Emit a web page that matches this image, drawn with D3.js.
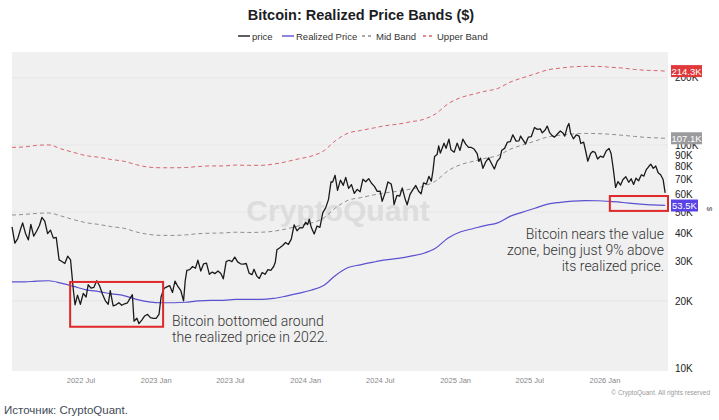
<!DOCTYPE html>
<html lang="en">
<head>
<meta charset="UTF-8">
<title>Bitcoin: Realized Price Bands</title>
<script src="https://d3js.org/d3.v7.min.js"></script>
<style>
    body { margin: 0; background: #fff; }
    svg { display: block; font-family: "Liberation Sans", Arial, sans-serif; }
</style>
</head>
<body>
<svg width="719" height="420"></svg>
<script>
// price in K$, weekly (plus a few spike days)
const price = [
    ["2022-01-15",42.9],["2022-01-22",36.3],["2022-01-29",38.0],["2022-02-05",42.0],["2022-02-10",44.7],
    ["2022-02-17",40.1],["2022-02-24",37.5],["2022-03-02",44.0],["2022-03-09",39.0],["2022-03-16",41.0],
    ["2022-03-23",43.5],["2022-03-29",47.3],["2022-04-05",45.5],["2022-04-12",40.0],["2022-04-19",41.5],
    ["2022-04-26",38.2],["2022-05-03",38.5],["2022-05-10",30.5],["2022-05-17",30.0],["2022-05-24",29.4],
    ["2022-05-31",31.7],["2022-06-07",30.5],["2022-06-14",22.2],["2022-06-18",19.2],["2022-06-24",21.2],
    ["2022-07-01",19.3],["2022-07-08",21.6],["2022-07-15",20.8],["2022-07-20",23.6],["2022-07-27",22.8],
    ["2022-08-03",23.0],["2022-08-10",24.6],["2022-08-17",23.3],["2022-08-24",21.4],["2022-08-31",20.0],
    ["2022-09-07",19.3],["2022-09-12",22.2],["2022-09-19",19.0],["2022-09-26",19.2],["2022-10-03",19.6],
    ["2022-10-10",19.1],["2022-10-17",19.4],["2022-10-24",19.6],["2022-10-31",20.6],["2022-11-05",21.3],
    ["2022-11-09",16.2],["2022-11-16",16.7],["2022-11-21",15.8],["2022-11-28",16.4],["2022-12-05",17.1],
    ["2022-12-12",17.4],["2022-12-19",16.8],["2022-12-26",16.7],["2023-01-02",16.7],["2023-01-09",17.4],
    ["2023-01-14",20.8],["2023-01-21",22.7],["2023-01-28",23.1],["2023-02-04",23.4],["2023-02-11",21.8],
    ["2023-02-17",24.5],["2023-02-24",23.2],["2023-03-03",22.3],["2023-03-10",20.0],["2023-03-14",24.6],
    ["2023-03-18",27.4],["2023-03-25",27.6],["2023-04-01",28.5],["2023-04-08",28.0],["2023-04-14",30.4],
    ["2023-04-21",27.2],["2023-04-28",29.3],["2023-05-05",29.5],["2023-05-12",26.3],["2023-05-19",26.9],
    ["2023-05-26",26.5],["2023-06-02",27.2],["2023-06-09",26.5],["2023-06-15",25.1],["2023-06-22",30.0],
    ["2023-06-29",30.4],["2023-07-06",30.0],["2023-07-13",31.4],["2023-07-20",29.9],["2023-07-27",29.3],
    ["2023-08-03",29.2],["2023-08-10",29.4],["2023-08-17",26.6],["2023-08-24",26.2],["2023-08-29",27.7],
    ["2023-09-05",25.8],["2023-09-11",25.2],["2023-09-18",26.8],["2023-09-25",26.3],["2023-10-02",27.6],
    ["2023-10-09",27.4],["2023-10-16",28.5],["2023-10-20",29.8],["2023-10-24",33.9],["2023-10-31",34.6],
    ["2023-11-07",35.4],["2023-11-14",36.5],["2023-11-21",35.8],["2023-11-28",37.8],["2023-12-05",43.8],
    ["2023-12-12",41.2],["2023-12-19",42.6],["2023-12-26",42.5],["2024-01-02",45.0],["2024-01-07",43.9],
    ["2024-01-11",46.5],["2024-01-16",42.6],["2024-01-23",39.9],["2024-01-30",43.3],["2024-02-06",42.7],
    ["2024-02-13",49.7],["2024-02-20",52.2],["2024-02-27",57.0],["2024-03-04",68.3],["2024-03-08",68.2],
    ["2024-03-14",73.1],["2024-03-20",62.5],["2024-03-27",69.5],["2024-04-03",65.9],["2024-04-09",71.5],
    ["2024-04-16",63.8],["2024-04-23",66.4],["2024-04-30",60.6],["2024-05-07",63.2],["2024-05-14",61.6],
    ["2024-05-21",70.2],["2024-05-28",68.4],["2024-06-04",70.6],["2024-06-11",67.3],["2024-06-18",65.2],
    ["2024-06-25",61.9],["2024-07-02",62.1],["2024-07-07",55.9],["2024-07-14",60.8],["2024-07-21",68.2],
    ["2024-07-29",66.8],["2024-08-02",61.5],["2024-08-05",54.0],["2024-08-12",59.4],["2024-08-19",59.0],
    ["2024-08-25",64.2],["2024-09-01",57.3],["2024-09-06",53.9],["2024-09-13",60.0],["2024-09-20",63.0],
    ["2024-09-27",65.8],["2024-10-04",62.0],["2024-10-10",60.3],["2024-10-16",67.6],["2024-10-23",66.7],
    ["2024-10-29",72.3],["2024-11-04",68.8],["2024-11-08",76.5],["2024-11-12",88.7],["2024-11-18",90.5],
    ["2024-11-22",98.9],["2024-11-26",91.9],["2024-12-01",97.2],["2024-12-05",101.8],["2024-12-10",96.6],
    ["2024-12-17",106.1],["2024-12-22",95.1],["2024-12-30",92.8],["2025-01-06",101.9],["2025-01-13",94.5],
    ["2025-01-20",106.1],["2025-01-27",100.8],["2025-02-03",97.5],["2025-02-10",97.4],["2025-02-17",95.6],
    ["2025-02-24",91.5],["2025-02-28",84.4],["2025-03-04",87.2],["2025-03-10",78.6],["2025-03-17",84.0],
    ["2025-03-24",87.5],["2025-03-31",82.5],["2025-04-07",78.0],["2025-04-14",84.5],["2025-04-21",87.5],
    ["2025-04-25",94.7],["2025-05-02",96.5],["2025-05-09",103.0],["2025-05-16",103.5],["2025-05-22",111.0],
    ["2025-05-30",104.0],["2025-06-06",104.3],["2025-06-10",109.6],["2025-06-17",104.5],["2025-06-22",101.0],
    ["2025-06-29",108.4],["2025-07-06",108.9],["2025-07-14",119.8],["2025-07-21",117.4],["2025-07-28",118.0],
    ["2025-08-02",113.2],["2025-08-09",116.6],["2025-08-14",121.5],["2025-08-20",113.5],["2025-08-26",110.1],
    ["2025-09-01",108.4],["2025-09-08",112.0],["2025-09-15",115.4],["2025-09-22",112.7],["2025-09-26",109.6],
    ["2025-10-02",120.5],["2025-10-06",124.8],["2025-10-10",113.2],["2025-10-17",106.5],["2025-10-24",111.0],
    ["2025-10-31",109.5],["2025-11-04",101.5],["2025-11-11",103.0],["2025-11-17",92.0],["2025-11-21",84.5],
    ["2025-11-28",91.5],["2025-12-03",93.5],["2025-12-09",92.6],["2025-12-15",86.5],["2025-12-22",89.0],
    ["2025-12-29",88.0],["2026-01-05",94.0],["2026-01-12",96.5],["2026-01-17",91.5],["2026-01-22",79.0],
    ["2026-01-28",64.5],["2026-02-03",68.5],["2026-02-09",66.0],["2026-02-15",70.0],["2026-02-22",72.0],
    ["2026-03-01",68.0],["2026-03-07",70.5],["2026-03-13",66.5],["2026-03-19",71.0],["2026-03-25",69.0],
    ["2026-04-01",73.5],["2026-04-07",72.5],["2026-04-13",77.5],["2026-04-19",80.0],["2026-04-24",82.0],
    ["2026-04-30",78.5],["2026-05-06",80.5],["2026-05-12",75.0],["2026-05-18",73.5],["2026-05-24",70.0],
    ["2026-05-29",61.0]
];

// monthly band series, K$
const bandDates = ["2022-01-15","2022-02-15","2022-03-15","2022-04-15","2022-05-15","2022-06-15","2022-07-15",
    "2022-08-15","2022-09-15","2022-10-15","2022-11-15","2022-12-15","2023-01-15","2023-02-15","2023-03-15",
    "2023-04-15","2023-05-15","2023-06-15","2023-07-15","2023-08-15","2023-09-15","2023-10-15","2023-11-15",
    "2023-12-15","2024-01-15","2024-02-15","2024-03-15","2024-04-15","2024-05-15","2024-06-15","2024-07-15",
    "2024-08-15","2024-09-15","2024-10-15","2024-11-15","2024-12-15","2025-01-15","2025-02-15","2025-03-15",
    "2025-04-15","2025-05-15","2025-06-15","2025-07-15","2025-08-15","2025-09-15","2025-10-15","2025-11-15",
    "2025-12-15","2026-01-15","2026-02-15","2026-03-15","2026-04-15","2026-05-15","2026-05-29"];
const realized = [24.3,24.3,24.5,24.6,24.0,23.2,22.4,22.0,21.5,21.1,20.3,19.8,19.6,19.6,19.7,
    20.0,20.1,20.1,20.3,20.3,20.3,20.5,21.0,21.6,22.3,23.4,26.0,28.2,29.0,29.8,30.5,
    31.0,31.7,32.6,34.5,38.3,40.8,42.2,43.5,44.7,47.8,50.0,52.0,54.3,55.3,56.0,56.3,
    56.2,55.8,55.2,54.6,54.0,53.7,53.5];
const midBand = [48.5,48.8,49.3,49.5,48.0,46.2,44.8,44.0,43.0,42.3,40.7,39.7,39.3,39.3,39.5,
    40.0,40.2,40.3,40.6,40.5,40.6,41.0,42.0,43.3,44.6,47.0,52.2,56.5,58.0,59.6,61.0,
    62.0,63.4,65.2,69.0,76.6,81.6,84.5,87.0,89.5,95.5,100.0,104.0,108.6,110.6,112.0,112.6,
    112.4,111.6,110.4,109.2,108.0,107.4,107.1];
const upperBand = [97.5,98.0,99.5,100.0,96.0,92.5,89.5,88.0,86.0,84.5,81.5,79.5,79.0,79.0,79.2,
    80.0,80.5,80.5,81.2,81.0,81.0,82.0,84.0,86.5,89.0,94.0,104.5,113.0,116.0,119.0,122.0,
    124.0,127.0,130.0,138.0,153.0,163.0,169.0,174.0,179.0,191.0,200.0,208.0,217.0,221.0,224.0,225.0,
    225.0,223.0,221.0,218.0,216.0,215.0,214.3];

const yTicks = [10,20,30,40,50,60,70,80,90,100,200];
const xTicks = ["2022-07-01","2023-01-01","2023-07-01","2024-01-01","2024-07-01","2025-01-01","2025-07-01","2026-01-01"];
const lastValues = [{v:214.3, label:"214.3K", color:"#e0393b"},
                    {v:107.1, label:"107.1K", color:"#9b9b9d"},
                    {v:53.5, label:"53.5K", color:"#5a43e6"}];
// highlighted zones: [start date, end date, low K, high K]
const zones = [["2022-06-06","2023-01-19",15.3,24.3],["2026-01-14","2026-06-05",50.6,59.0]];

const parse = d3.timeParse("%Y-%m-%d");
const svg = d3.select("svg");
const plot = {left:12, right:668, top:52, bottom:371};

const x = d3.scaleTime()
    .domain([parse("2022-01-15"), parse("2026-06-05")])
    .range([plot.left, plot.right]);
const y = d3.scaleLog()
    .domain([9.69, 261])
    .range([plot.bottom, plot.top]);

// plot background
svg.append("rect")
    .attr("x", plot.left).attr("y", plot.top)
    .attr("width", plot.right - plot.left).attr("height", plot.bottom - plot.top)
    .attr("fill", "#f0f0f0");

// faint gridlines
svg.append("g").selectAll("line").data([200,100,50,20])
    .join("line")
    .attr("x1", plot.left).attr("x2", plot.right)
    .attr("y1", d => y(d)).attr("y2", d => y(d))
    .attr("stroke", "#e4e4e4").attr("stroke-width", 0.8);

// watermark
svg.append("text")
    .attr("x", 338).attr("y", 221)
    .attr("text-anchor", "middle")
    .attr("font-size", 30)
    .attr("font-weight", "bold")
    .attr("fill", "#d6d6d6")
    .attr("opacity", 0.7)
    .text("CryptoQuant");

// title + legend
svg.append("text")
    .attr("x", 361).attr("y", 20)
    .attr("text-anchor", "middle")
    .attr("font-size", 14.5).attr("font-weight", "bold").attr("fill", "#1d1d1f")
    .text("Bitcoin: Realized Price Bands ($)");

const legend = [
    {name:"price", color:"#1a1a1a", dash:null, x:238},
    {name:"Realized Price", color:"#5b50d0", dash:null, x:282},
    {name:"Mid Band", color:"#8f8f8f", dash:"3,3", x:362},
    {name:"Upper Band", color:"#d9646e", dash:"3,3", x:423}
];
const lg = svg.append("g").selectAll("g").data(legend).join("g")
    .attr("transform", d => `translate(${d.x},36)`);
lg.append("line")
    .attr("x1", 0).attr("x2", 12).attr("y1", 0).attr("y2", 0)
    .attr("stroke", d => d.color).attr("stroke-width", 1.4)
    .attr("stroke-dasharray", d => d.dash);
lg.append("text")
    .attr("x", 14).attr("y", 3.5)
    .attr("font-size", 9.5).attr("fill", "#333")
    .text(d => d.name);

// lines
const bands = bandDates.map((d, i) => ({date: parse(d), r: realized[i], m: midBand[i], u: upperBand[i]}));
const priceData = price.map(d => ({date: parse(d[0]), v: d[1]}));

const lineOf = key => d3.line().curve(d3.curveMonotoneX).x(d => x(d.date)).y(d => y(d[key]));

svg.append("path").datum(bands)
    .attr("d", lineOf("u"))
    .attr("fill", "none").attr("stroke", "#d9646e").attr("stroke-width", 1)
    .attr("stroke-dasharray", "4,3");
svg.append("path").datum(bands)
    .attr("d", lineOf("m"))
    .attr("fill", "none").attr("stroke", "#8f8f8f").attr("stroke-width", 1)
    .attr("stroke-dasharray", "4,3");
svg.append("path").datum(bands)
    .attr("d", lineOf("r"))
    .attr("fill", "none").attr("stroke", "#5b50d0").attr("stroke-width", 1.2);
svg.append("path").datum(priceData)
    .attr("d", d3.line().x(d => x(d.date)).y(d => y(d.v)))
    .attr("fill", "none").attr("stroke", "#1a1a1a").attr("stroke-width", 1.3)
    .attr("stroke-linejoin", "round");

// red highlight boxes
svg.append("g").selectAll("rect").data(zones).join("rect")
    .attr("x", d => x(parse(d[0])))
    .attr("y", d => y(d[3]))
    .attr("width", d => x(parse(d[1])) - x(parse(d[0])))
    .attr("height", d => y(d[2]) - y(d[3]))
    .attr("fill", "none").attr("stroke", "#e0272a").attr("stroke-width", 2);

// annotations
const noteStyle = t => t.attr("font-size", 14).attr("font-weight", 300).attr("fill", "#333")
    .attr("font-family", "Roboto, 'Liberation Sans', Arial, sans-serif");
const note1 = svg.append("text").attr("x", 172).attr("y", 326).call(noteStyle);
note1.append("tspan").attr("x", 172).text("Bitcoin bottomed around");
note1.append("tspan").attr("x", 172).attr("dy", 15.5).text("the realized price in 2022.");
const note2 = svg.append("text").attr("x", 664).attr("y", 239).attr("text-anchor", "end").call(noteStyle);
note2.append("tspan").attr("x", 664).text("Bitcoin nears the value");
note2.append("tspan").attr("x", 664).attr("dy", 15.8).text("zone, being just 9% above");
note2.append("tspan").attr("x", 664).attr("dy", 15.8).text("its realized price.");

// right axis
const yAxis = svg.append("g")
    .attr("transform", `translate(${plot.right},0)`)
    .call(d3.axisRight(y).tickValues(yTicks).tickFormat(d => d + "K").tickSize(0).tickPadding(7));
yAxis.select(".domain").remove();
yAxis.selectAll("text").attr("font-size", 10).attr("fill", "#222")
    .attr("font-family", "'Liberation Sans', Arial, sans-serif");

svg.append("text")
    .attr("transform", "translate(707,209) rotate(90)")
    .attr("text-anchor", "middle").attr("font-size", 8).attr("fill", "#555")
    .text("$");

// last value tags
const tag = svg.append("g").selectAll("g").data(lastValues).join("g")
    .attr("transform", d => `translate(671,${y(d.v)})`);
tag.append("rect")
    .attr("x", 0).attr("y", -6).attr("width", d => d.label.length > 5 ? 31 : 27).attr("height", 12)
    .attr("fill", d => d.color);
tag.append("text")
    .attr("x", d => (d.label.length > 5 ? 31 : 27) / 2).attr("y", 3.5)
    .attr("text-anchor", "middle").attr("font-size", 9.5).attr("fill", "#fff")
    .text(d => d.label);

// bottom axis
const xAxis = svg.append("g")
    .attr("transform", `translate(0,${plot.bottom})`)
    .call(d3.axisBottom(x).tickValues(xTicks.map(parse)).tickFormat(d3.timeFormat("%Y %b")).tickSize(0).tickPadding(7));
xAxis.select(".domain").remove();
xAxis.selectAll("text").attr("font-size", 7.5).attr("fill", "#888")
    .attr("font-family", "'Liberation Sans', Arial, sans-serif");

svg.append("text")
    .attr("x", 710).attr("y", 395).attr("text-anchor", "end")
    .attr("font-size", 6.5).attr("fill", "#999")
    .text("© CryptoQuant. All rights reserved");

svg.append("text")
    .attr("x", 4).attr("y", 414)
    .attr("font-size", 11.5).attr("fill", "#3f4a57")
    .text("Источник: CryptoQuant.");
</script>
</body>
</html>
